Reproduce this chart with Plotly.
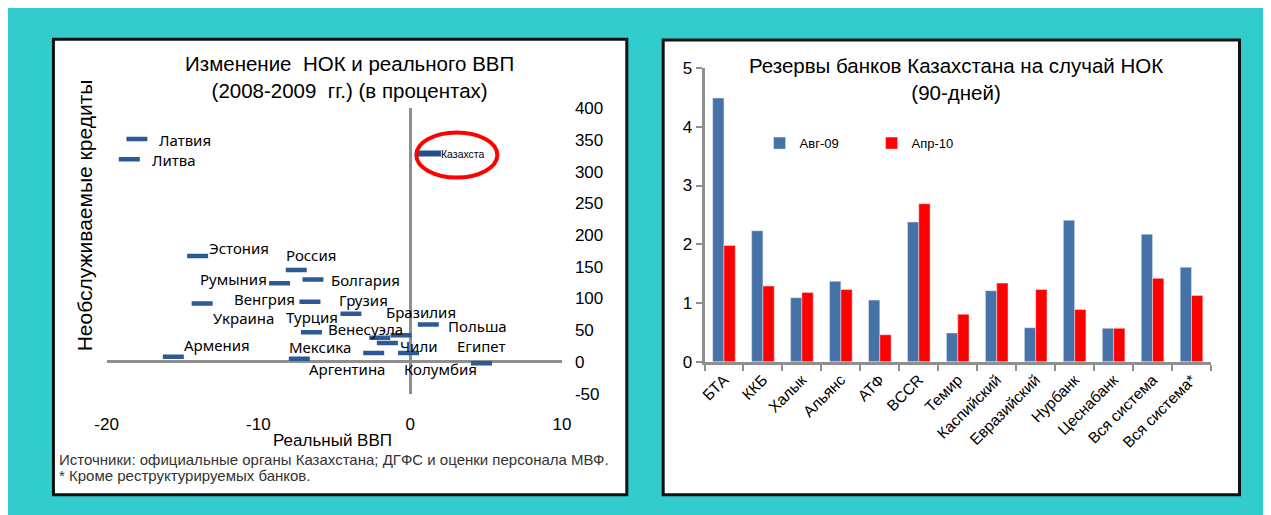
import plotly.graph_objects as go

W, H = 1271, 515

# ---------------- Left chart data ----------------
countries = ["Латвия", "Литва", "Казахстан", "Эстония", "Россия", "Румыния", "Болгария",
             "Венгрия", "Украина", "Грузия", "Турция", "Венесуэла", "Чили", "Бразилия",
             "Польша", "Аргентина", "Колумбия", "Мексика", "Армения", "Египет"]
point_labels = ["Латвия", "Литва", "Казахста", "Эстония", "Россия", "Румыния", "Болгария",
                "Венгрия", "Украина", "Грузия", "Турция", "Венесуэла", "Чили", "Бразилия",
                "Польша", "Аргентина", "Колумбия", "Мексика", "Армения", "Египет"]
real_gdp = [-18.0, -18.5, 1.2, -14.0, -7.5, -8.6, -6.4, -6.6, -13.7, -3.9, -6.5, -2.0, -1.5,
            -0.6, 1.2, -2.4, -0.1, -7.3, -15.6, 4.7]
npl_change = [352, 320, 329, 167, 145, 124, 130, 95, 92, 76, 47, 38, 30, 42, 59, 14, 14, 5, 8, -2]
x_ticks = [-20, -10, 0, 10]
x_tick_text = ["-20", "-10", "0", "10"]
y_ticks = [-50, 0, 50, 100, 150, 200, 250, 300, 350, 400]
y_tick_text = ["-50", "0", "50", "100", "150", "200", "250", "300", "350", "400"]

# label placement (style: pixel offsets from the marker)
lab_dx = [20, 21, 11, 9, -12, -11, 16, -13, 9, -14, -27, -54, 11, -17, 18, -67, -7, -12, 9, -26]
lab_dy = [-1, -1, -1, 8, 15, 4, 0, 3, -14, 14, 15, 9, -3, 23, -1, -16, -16, 12, 12, 17]
lab_anchor = ["left", "left", "left", "left", "left", "right", "left", "right", "left", "left",
              "left", "left", "left", "left", "left", "left", "left", "left", "left", "left"]
highlight = "Казахстан"

# ---------------- Right chart data ----------------
banks = ["БТА", "ККБ", "Халык", "Альянс", "АТФ", "BCCR", "Темир", "Каспийский", "Евразийский",
         "Нурбанк", "Цеснабанк", "Вся система", "Вся система*"]
aug09 = [4.49, 2.23, 1.09, 1.37, 1.05, 2.38, 0.49, 1.21, 0.58, 2.41, 0.57, 2.17, 1.61]
apr10 = [1.98, 1.29, 1.18, 1.23, 0.46, 2.69, 0.81, 1.34, 1.23, 0.89, 0.57, 1.42, 1.13]

TEAL = "#33CCCC"
BLUE = "#4672A8"
RED = "#FF0000"
MARK = "#2D5A94"
AX = "#8F8F8F"
FONT = "Liberation Sans, Arial, sans-serif"
LFONT = "Noto Sans, Open Sans, sans-serif"


def px(x):
    return x / W


def py(y):
    return 1 - y / H


fig = go.Figure()

others = [i for i, c in enumerate(countries) if c != highlight]
hi = [i for i, c in enumerate(countries) if c == highlight]

fig.add_trace(go.Scatter(
    x=[real_gdp[i] for i in others], y=[npl_change[i] for i in others],
    mode="markers", xaxis="x", yaxis="y", showlegend=False,
    marker=dict(symbol="line-ew", size=15, line=dict(width=4.5, color=MARK)),
))
fig.add_trace(go.Scatter(
    x=[real_gdp[i] for i in hi], y=[npl_change[i] for i in hi],
    mode="markers", xaxis="x", yaxis="y", showlegend=False,
    marker=dict(symbol="line-ew", size=18, line=dict(width=6, color="#264F85")),
))

fig.add_trace(go.Bar(x=banks, y=aug09, name="Авг-09", marker_color=BLUE,
                     xaxis="x2", yaxis="y2"))
fig.add_trace(go.Bar(x=banks, y=apr10, name="Апр-10", marker_color=RED,
                     xaxis="x2", yaxis="y2"))

annotations = []
for i, lab in enumerate(point_labels):
    small = countries[i] == highlight
    annotations.append(dict(
        x=real_gdp[i], y=npl_change[i], xref="x", yref="y", text=lab, showarrow=False,
        xanchor=lab_anchor[i], yanchor="middle", xshift=lab_dx[i], yshift=lab_dy[i],
        font=dict(family=FONT if small else LFONT, size=10.5 if small else 15, color="black"),
    ))

# titles / texts
annotations += [
    dict(x=px(335), y=py(62), xref="paper", yref="paper", showarrow=False,
         text="Изменение\u00a0 НОК и реального ВВП<br>(2008-2009\u00a0 гг.) (в процентах)",
         font=dict(family=FONT, size=20.5, color="black"), xanchor="center", yanchor="middle"),
    dict(x=px(65), y=py(206), xref="paper", yref="paper", showarrow=False,
         text="Необслуживаемые кредиты", textangle=-90,
         font=dict(family=FONT, size=21, color="black"), xanchor="center", yanchor="middle"),
    dict(x=px(318), y=py(440), xref="paper", yref="paper", showarrow=False,
         text="Реальный ВВП",
         font=dict(family=FONT, size=17, color="black"), xanchor="center", yanchor="middle"),
    dict(x=px(38), y=py(459), xref="paper", yref="paper", showarrow=False,
         text="Источники: официальные органы Казахстана; ДГФС и оценки персонала МВФ.",
         font=dict(family=FONT, size=15, color="#333333"), xanchor="left", yanchor="middle"),
    dict(x=px(38), y=py(476), xref="paper", yref="paper", showarrow=False,
         text="* Кроме реструктурируемых банков.",
         font=dict(family=FONT, size=15, color="#333333"), xanchor="left", yanchor="middle"),
    dict(x=px(952), y=py(64), xref="paper", yref="paper", showarrow=False,
         text="Резервы банков Казахстана на случай НОК<br>(90-дней)",
         font=dict(family=FONT, size=20.5, color="black"), xanchor="center", yanchor="middle"),
]

kz = countries.index(highlight)
shapes = [
    dict(type="rect", xref="paper", yref="paper", x0=px(34), x1=px(617), y0=py(496), y1=py(23),
         fillcolor="white", line=dict(color="#111111", width=3), layer="below"),
    dict(type="rect", xref="paper", yref="paper", x0=px(654), x1=px(1240), y0=py(496), y1=py(24),
         fillcolor="white", line=dict(color="#111111", width=3), layer="below"),
    dict(type="circle", xref="x", yref="y", xsizemode="pixel", ysizemode="pixel",
         xanchor=real_gdp[kz], yanchor=npl_change[kz], x0=-12, x1=69, y0=-24, y1=21,
         line=dict(color="#FF0000", width=4)),
]

fig.update_layout(
    width=W, height=H, autosize=False,
    margin=dict(l=0, r=0, t=0, b=0),
    paper_bgcolor=TEAL, plot_bgcolor="rgba(0,0,0,0)",
    font=dict(family=FONT, color="black"),
    barmode="group", bargap=0.42, bargroupgap=0,
    xaxis=dict(domain=[px(88), px(551)], range=[-20, 10], tickvals=x_ticks, ticktext=x_tick_text,
               showgrid=False, showline=False, zeroline=True, zerolinecolor=AX, zerolinewidth=3,
               ticks="", tickfont=dict(size=17, family=FONT), ticklabelstandoff=18,
               anchor="y"),
    yaxis=dict(domain=[py(391), py(95)], range=[-50, 400], tickvals=y_ticks, ticktext=y_tick_text,
               side="right",
               showgrid=False, showline=False, zeroline=True, zerolinecolor=AX, zerolinewidth=3,
               ticks="", tickfont=dict(size=17, family=FONT), ticklabelstandoff=12,
               anchor="x"),
    xaxis2=dict(domain=[px(696), px(1211)], anchor="y2", type="category",
                showgrid=False, showline=True, linecolor=AX, linewidth=3,
                ticks="outside", tickson="boundaries", ticklen=6, tickwidth=2, tickcolor=AX,
                tickangle=-45, tickfont=dict(size=15.5, family=FONT)),
    yaxis2=dict(domain=[py(358), py(53)], anchor="x2", range=[0, 5], dtick=1,
                showgrid=False, showline=True, linecolor=AX, linewidth=3, zeroline=False,
                ticks="outside", ticklen=6, tickwidth=2, tickcolor=AX,
                tickfont=dict(size=17, family=FONT)),
    legend=dict(orientation="h", x=px(752), y=py(131), xanchor="left", yanchor="middle",
                bgcolor="rgba(0,0,0,0)", font=dict(size=13, family=FONT),
                itemwidth=30, entrywidth=67, traceorder="normal"),
    annotations=annotations,
    shapes=shapes,
)

fig.write_html("out.html")
